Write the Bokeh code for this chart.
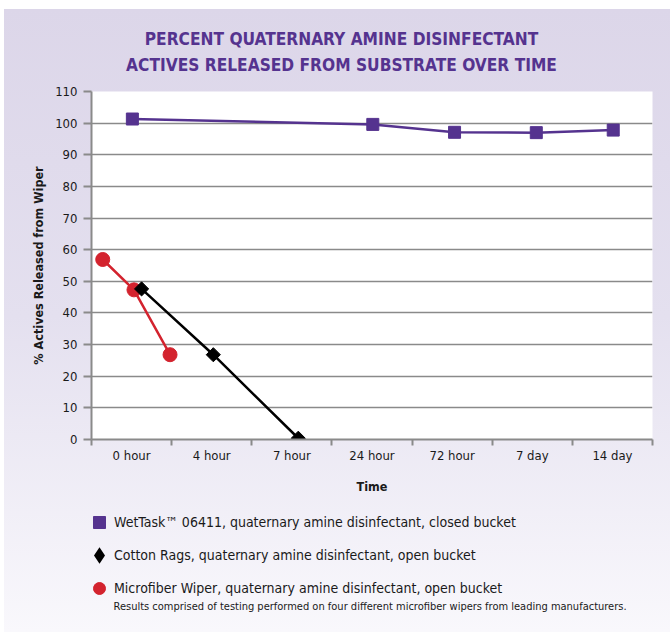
import math
from bokeh.plotting import figure
from bokeh.layouts import column
from bokeh.models import Range1d, FixedTicker, Legend, LegendItem, Label
from bokeh.embed import file_html
from bokeh.resources import INLINE

# ---- data ----
categories = ["0 hour", "4 hour", "7 hour", "24 hour", "72 hour", "7 day", "14 day"]
y_ticks = [0, 10, 20, 30, 40, 50, 60, 70, 80, 90, 100, 110]

wettask_x = [0.51, 3.51, 4.53, 5.55, 6.51]
wettask_y = [101.3, 99.6, 97.1, 97.0, 97.8]
cotton_x = [0.625, 1.52, 2.58]
cotton_y = [47.6, 26.8, 0.4]
micro_x = [0.14, 0.53, 0.98]
micro_y = [56.9, 47.3, 26.8]

series_labels = [
    "WetTask\u2122 06411, quaternary amine disinfectant, closed bucket",
    "Cotton Rags, quaternary amine disinfectant, open bucket",
    "Microfiber Wiper, quaternary amine disinfectant, open bucket",
]
note_text = "Results comprised of testing performed on four different microfiber wipers from leading manufacturers."
title_lines = ["PERCENT QUATERNARY AMINE DISINFECTANT", "ACTIVES RELEASED FROM SUBSTRATE OVER TIME"]
x_title = "Time"
y_title = "% Actives Released from Wiper"

# ---- styles ----
FONT = "DejaVu Sans Condensed"
PURPLE = "#55338f"
RED = "#d3232e"
BLACK = "#000000"
GRID = "#8a8a8a"
TEXT = "#1a1a1a"
NAN = float("nan")


def bare(fig):
    fig.grid.visible = False
    fig.background_fill_color = None
    fig.border_fill_color = None
    fig.outline_line_color = None
    return fig


# ================= title strip =================
h = bare(figure(width=670, height=81, x_range=Range1d(0, 1), y_range=Range1d(0, 1),
                output_backend="svg", toolbar_location=None,
                x_axis_type=None, y_axis_type=None, min_border=0))
for text, ypos in zip(title_lines, [43, 17]):
    h.add_layout(Label(x=250, y=ypos, x_units="screen", y_units="screen", text=text,
                       text_align="center", text_baseline="middle",
                       text_font=FONT, text_font_size="17.2px", text_font_style="bold",
                       text_color=PURPLE))

# ================= main chart =================
p = figure(width=670, height=419, x_range=Range1d(0, 7), y_range=Range1d(0, 110),
           output_backend="svg", toolbar_location=None,
           min_border_left=91, min_border_right=18, min_border_top=10, min_border_bottom=61)
p.background_fill_color = "white"
p.border_fill_color = None
p.outline_line_color = None

# y axis
p.yaxis.ticker = FixedTicker(ticks=y_ticks, minor_ticks=[])
p.yaxis.major_tick_in = 0
p.yaxis.major_tick_out = 8
p.yaxis.major_tick_line_color = GRID
p.yaxis.major_tick_line_width = 2
p.yaxis.axis_line_color = GRID
p.yaxis.axis_line_width = 2
p.yaxis.major_label_text_font = FONT
p.yaxis.major_label_text_font_size = "13px"
p.yaxis.major_label_text_color = TEXT
p.yaxis.major_label_standoff = 6
p.yaxis.axis_label = y_title
p.yaxis.axis_label_text_font = FONT
p.yaxis.axis_label_text_font_size = "12.5px"
p.yaxis.axis_label_text_font_style = "bold"
p.yaxis.axis_label_text_color = TEXT
p.yaxis.axis_label_standoff = 6

# x axis: labels at category centres, tick marks at boundaries
centers = [i + 0.5 for i in range(len(categories))]
bounds = list(range(len(categories) + 1))
p.xaxis.ticker = FixedTicker(ticks=centers, minor_ticks=bounds)
p.xaxis.major_label_overrides = {c: lab for c, lab in zip(centers, categories)}
p.xaxis.major_tick_in = 0
p.xaxis.major_tick_out = 0
p.xaxis.minor_tick_in = 0
p.xaxis.minor_tick_out = 6
p.xaxis.minor_tick_line_color = GRID
p.xaxis.minor_tick_line_width = 2
p.xaxis.axis_line_color = GRID
p.xaxis.axis_line_width = 2
p.xaxis.major_label_text_font = FONT
p.xaxis.major_label_text_font_size = "13px"
p.xaxis.major_label_text_color = TEXT
p.xaxis.major_label_standoff = 2
p.xaxis.axis_label = x_title
p.xaxis.axis_label_text_font = FONT
p.xaxis.axis_label_text_font_size = "12.5px"
p.xaxis.axis_label_text_font_style = "bold"
p.xaxis.axis_label_text_color = TEXT
p.xaxis.axis_label_standoff = 13

p.xgrid.visible = False
p.ygrid.ticker = FixedTicker(ticks=y_ticks, minor_ticks=[])
p.ygrid.grid_line_color = GRID
p.ygrid.grid_line_width = 1.6

# series
p.line(micro_x, micro_y, line_color=RED, line_width=2.5)
p.scatter(micro_x, micro_y, marker="circle", size=14, fill_color=RED, line_color=RED)
p.line(cotton_x, cotton_y, line_color=BLACK, line_width=2.5)
p.scatter(cotton_x, cotton_y, marker="square", size=10, angle=math.pi / 4,
          fill_color=BLACK, line_color=BLACK)
p.line(wettask_x, wettask_y, line_color=PURPLE, line_width=2.5)
p.scatter(wettask_x, wettask_y, marker="square", size=12, fill_color=PURPLE, line_color=PURPLE)

# ================= legend strip =================
q = bare(figure(width=670, height=132, x_range=Range1d(0, 1), y_range=Range1d(0, 1),
                output_backend="svg", toolbar_location=None,
                x_axis_type=None, y_axis_type=None, min_border=0))

# legend swatches (renderers with a single non-drawn point, used only by the legend)
k_wet = q.scatter(x=[NAN], y=[NAN], marker="square", size=12, fill_color=PURPLE, line_color=PURPLE)
k_cot = q.scatter(x=[NAN], y=[NAN], marker="diamond", size=14, fill_color=BLACK, line_color=BLACK,
                  line_width=2.5, line_join="miter")
k_mic = q.scatter(x=[NAN], y=[NAN], marker="circle", size=14, fill_color=RED, line_color=RED)

legend = Legend(items=[LegendItem(label=series_labels[0], renderers=[k_wet]),
                       LegendItem(label=series_labels[1], renderers=[k_cot]),
                       LegendItem(label=series_labels[2], renderers=[k_mic])],
                location=(-7, 29), orientation="vertical",
                glyph_width=30, glyph_height=30, label_height=30, spacing=3,
                label_standoff=0, padding=0, margin=0,
                border_line_color=None, background_fill_alpha=0,
                label_text_font=FONT, label_text_font_size="14px", label_text_color=TEXT)
q.add_layout(legend, "center")

q.add_layout(Label(x=22, y=26, x_units="screen", y_units="screen", text=note_text,
                   text_align="left", text_baseline="middle",
                   text_font=FONT, text_font_size="11px", text_color=TEXT))

page = column(h, p, q, spacing=0)
page.styles = {"background": "linear-gradient(to right, #ffffff 0px, #ffffff 4px, rgba(255,255,255,0) 4px), "
                             "linear-gradient(to bottom, #ffffff 0px, #ffffff 9px, #dcd6e9 9px, #e4e0ef 50%, #f9f8fc 100%)"}

open("out.html", "w").write(file_html(page, INLINE))
